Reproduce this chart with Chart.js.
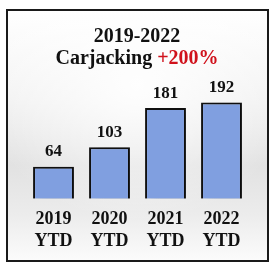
<!DOCTYPE html>
<html>
<head>
<meta charset="utf-8">
<script src="https://cdn.jsdelivr.net/npm/chart.js@4"></script>
<style>
  html, body { margin: 0; padding: 0; background: #fff; }
  #frame {
    position: absolute; left: 6px; top: 9px; width: 259px; height: 249px;
    border: 2px solid #1a1a1a;
    background:
      radial-gradient(ellipse 60% 55% at 50% 30%, rgba(255,255,255,0.9), rgba(255,255,255,0) 100%),
      linear-gradient(to bottom, #ffffff 0%, #f2f2f2 35%, #e2e2e2 62%, #ececec 82%, #fbfbfb 100%);
  }
  #wrap { position: absolute; left: 0; top: 0; width: 274px; height: 268px; }
</style>
</head>
<body>
<div id="frame"></div>
<div id="wrap"><canvas id="chart" width="274" height="268"></canvas></div>
<script>
// --- Chart data ---
const years = ["2019", "2020", "2021", "2022"];
const periodLabel = "YTD";
const carjackings = [64, 103, 181, 192];
const titleLine1 = "2019-2022";
const titleLine2 = "Carjacking ";
const changeText = "+200%";

const serif = "'Liberation Serif', 'Times New Roman', serif";

// --- Title drawn on the canvas (two colours on line 2) ---
const titlePlugin = {
  id: "titleLines",
  afterDraw(chart) {
    const ctx = chart.ctx;
    const cx = 137;
    ctx.save();
    ctx.font = "bold 20px " + serif;
    ctx.textBaseline = "alphabetic";
    ctx.fillStyle = "#111";
    ctx.textAlign = "center";
    ctx.fillText(titleLine1, cx, 42);

    let w1 = ctx.measureText(titleLine2).width;
    let w2 = ctx.measureText(changeText).width;
    let start = cx - (w1 + w2) / 2;
    ctx.textAlign = "left";
    ctx.fillText(titleLine2, start, 64);
    ctx.fillStyle = "#d0121c";
    ctx.fillText(changeText, start + w1, 64);
    ctx.restore();
  }
};

// --- Value labels above each bar ---
const valuePlugin = {
  id: "barValues",
  afterDatasetsDraw(chart) {
    const ctx = chart.ctx;
    const meta = chart.getDatasetMeta(0);
    ctx.save();
    ctx.font = "bold 17px " + serif;
    ctx.fillStyle = "#111";
    ctx.textAlign = "center";
    ctx.textBaseline = "alphabetic";
    meta.data.forEach((bar, i) => {
      ctx.fillText(String(carjackings[i]), bar.x, bar.y - 10.5);
    });
    ctx.restore();
  }
};

// --- Soft shadow behind the bars ---
const shadowPlugin = {
  id: "barShadow",
  beforeDatasetsDraw(chart) {
    const ctx = chart.ctx;
    ctx.save();
    ctx.shadowColor = "rgba(0,0,0,0.3)";
    ctx.shadowBlur = 9;
    ctx.shadowOffsetX = 6;
    ctx.shadowOffsetY = 1;
  },
  afterDatasetsDraw(chart) {
    chart.ctx.restore();
  }
};

new Chart(document.getElementById("chart").getContext("2d"), {
  type: "bar",
  data: {
    labels: years.map(y => [y, periodLabel]),
    datasets: [{
      data: carjackings,
      backgroundColor: "#809fe0",
      borderColor: "#111",
      borderWidth: 2,
      barPercentage: 0.73,
      categoryPercentage: 1
    }]
  },
  options: {
    responsive: false,
    animation: false,
    devicePixelRatio: 1,
    layout: { padding: { left: 25.5, right: 24.5, top: 98.5, bottom: 6 } },
    plugins: {
      legend: { display: false },
      tooltip: { enabled: false }
    },
    scales: {
      x: {
        grid: { display: false, drawTicks: false },
        border: { display: false },
        ticks: {
          color: "#111",
          padding: 10,
          font: { family: serif, size: 18, weight: "bold", lineHeight: 1.2 }
        }
      },
      y: {
        display: false,
        min: 0,
        max: 200
      }
    }
  },
  plugins: [shadowPlugin, valuePlugin, titlePlugin]
});
</script>
</body>
</html>
